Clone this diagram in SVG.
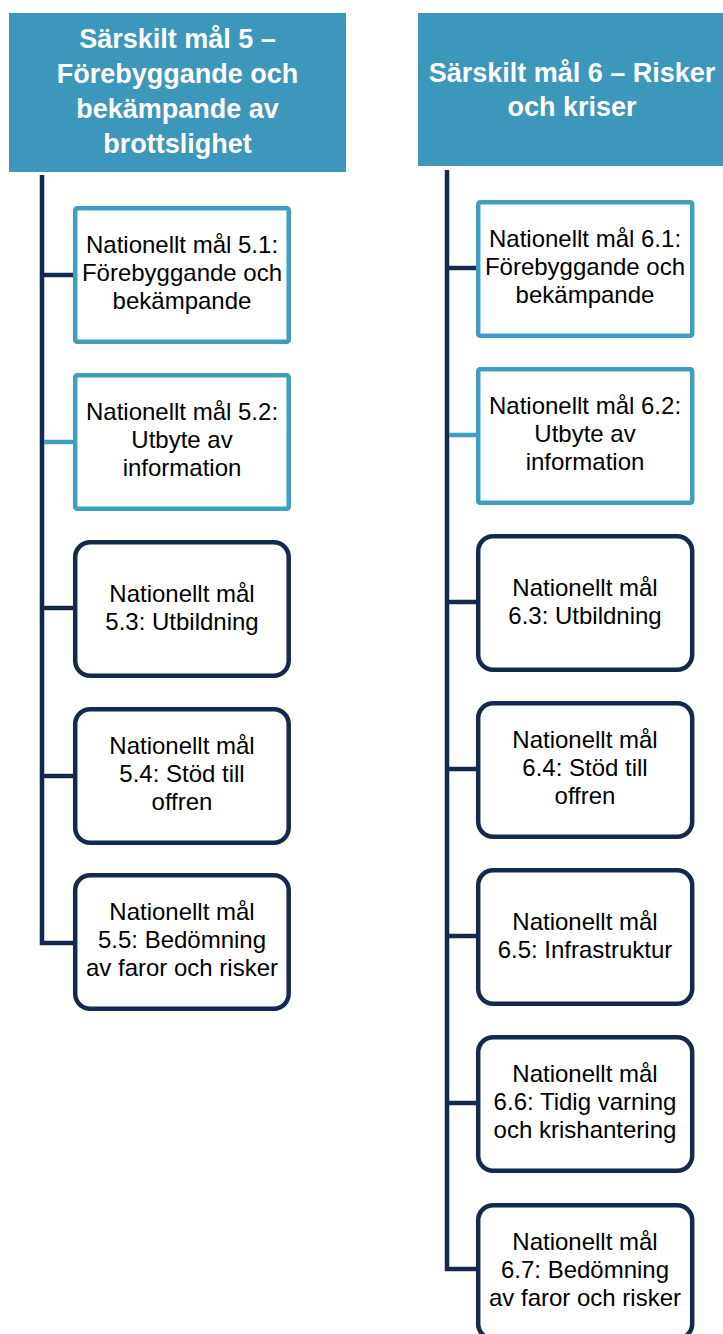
<svg xmlns="http://www.w3.org/2000/svg" width="723" height="1334" viewBox="0 0 723 1334">
<style>
.hdr{fill:#3C97BA}
.ht{font-family:"Liberation Sans",Arial,sans-serif;font-weight:bold;font-size:27px;fill:#FFFFFF;text-anchor:middle}
.bt{font-family:"Liberation Sans",Arial,sans-serif;font-size:24px;fill:#000000;text-anchor:middle}
.lb{fill:#FFFFFF;stroke:#3E9EC1;stroke-width:4.5}
.db{fill:#FFFFFF;stroke:#15294F;stroke-width:4.5}
.cn{fill:none;stroke:#15294F;stroke-width:4.5;stroke-linejoin:miter}
.cl{fill:none;stroke:#3E9EC1;stroke-width:4.5}
</style>
<rect width="723" height="1334" fill="#FFFFFF"/>
<g id="connectors">
<path class="cn" d="M42,175 V943 H73"/>
<line class="cn" x1="42" y1="275" x2="73" y2="275"/>
<line class="cl" x1="44" y1="442" x2="73" y2="442"/>
<line class="cn" x1="42" y1="608" x2="73" y2="608"/>
<line class="cn" x1="42" y1="776" x2="73" y2="776"/>
<path class="cn" d="M447,170 V1269 H476"/>
<line class="cn" x1="447" y1="268" x2="476" y2="268"/>
<line class="cl" x1="449" y1="435" x2="476" y2="435"/>
<line class="cn" x1="447" y1="602" x2="476" y2="602"/>
<line class="cn" x1="447" y1="769" x2="476" y2="769"/>
<line class="cn" x1="447" y1="936" x2="476" y2="936"/>
<line class="cn" x1="447" y1="1103" x2="476" y2="1103"/>
</g>
<g id="header5">
<rect class="hdr" x="9" y="13" width="337" height="159"/>
<text class="ht" x="177.5" y="48">Särskilt mål 5 –</text>
<text class="ht" x="177.5" y="83">Förebyggande och</text>
<text class="ht" x="177.5" y="118">bekämpande av</text>
<text class="ht" x="177.5" y="153">brottslighet</text>
</g>
<g id="header6">
<rect class="hdr" x="418" y="13" width="310" height="153"/>
<text class="ht" x="572" y="82">Särskilt mål 6 – Risker</text>
<text class="ht" x="572" y="116">och kriser</text>
</g>
<g id="n51">
<rect class="lb" x="75.2" y="208.2" width="213.5" height="133.5" rx="2"/>
<text class="bt" x="182" y="253">Nationellt mål 5.1:</text>
<text class="bt" x="182" y="281">Förebyggande och</text>
<text class="bt" x="182" y="309">bekämpande</text>
</g>
<g id="n52">
<rect class="lb" x="75.2" y="375.2" width="213.5" height="133.5" rx="2"/>
<text class="bt" x="182" y="420">Nationellt mål 5.2:</text>
<text class="bt" x="182" y="448">Utbyte av</text>
<text class="bt" x="182" y="476">information</text>
</g>
<g id="n53">
<rect class="db" x="75.2" y="542.2" width="213.5" height="133.5" rx="15"/>
<text class="bt" x="182" y="602">Nationellt mål</text>
<text class="bt" x="182" y="630">5.3: Utbildning</text>
</g>
<g id="n54">
<rect class="db" x="75.2" y="709.2" width="213.5" height="133.5" rx="15"/>
<text class="bt" x="182" y="754">Nationellt mål</text>
<text class="bt" x="182" y="782">5.4: Stöd till</text>
<text class="bt" x="182" y="810">offren</text>
</g>
<g id="n55">
<rect class="db" x="75.2" y="875.2" width="213.5" height="133.5" rx="15"/>
<text class="bt" x="182" y="920">Nationellt mål</text>
<text class="bt" x="182" y="948">5.5: Bedömning</text>
<text class="bt" x="182" y="976">av faror och risker</text>
</g>
<g id="n61">
<rect class="lb" x="478.2" y="202.2" width="214" height="133.5" rx="2"/>
<text class="bt" x="585" y="247">Nationellt mål 6.1:</text>
<text class="bt" x="585" y="275">Förebyggande och</text>
<text class="bt" x="585" y="303">bekämpande</text>
</g>
<g id="n62">
<rect class="lb" x="478.2" y="369.2" width="214" height="133.5" rx="2"/>
<text class="bt" x="585" y="414">Nationellt mål 6.2:</text>
<text class="bt" x="585" y="442">Utbyte av</text>
<text class="bt" x="585" y="470">information</text>
</g>
<g id="n63">
<rect class="db" x="478.2" y="536.2" width="214" height="133.5" rx="15"/>
<text class="bt" x="585" y="596">Nationellt mål</text>
<text class="bt" x="585" y="624">6.3: Utbildning</text>
</g>
<g id="n64">
<rect class="db" x="478.2" y="703.2" width="214" height="133.5" rx="15"/>
<text class="bt" x="585" y="748">Nationellt mål</text>
<text class="bt" x="585" y="776">6.4: Stöd till</text>
<text class="bt" x="585" y="804">offren</text>
</g>
<g id="n65">
<rect class="db" x="478.2" y="870.2" width="214" height="133.5" rx="15"/>
<text class="bt" x="585" y="930">Nationellt mål</text>
<text class="bt" x="585" y="958">6.5: Infrastruktur</text>
</g>
<g id="n66">
<rect class="db" x="478.2" y="1037.2" width="214" height="133.5" rx="15"/>
<text class="bt" x="585" y="1082">Nationellt mål</text>
<text class="bt" x="585" y="1110">6.6: Tidig varning</text>
<text class="bt" x="585" y="1138">och krishantering</text>
</g>
<g id="n67">
<rect class="db" x="478.2" y="1205.2" width="214" height="133.5" rx="15"/>
<text class="bt" x="585" y="1250">Nationellt mål</text>
<text class="bt" x="585" y="1278">6.7: Bedömning</text>
<text class="bt" x="585" y="1306">av faror och risker</text>
</g>
</svg>
